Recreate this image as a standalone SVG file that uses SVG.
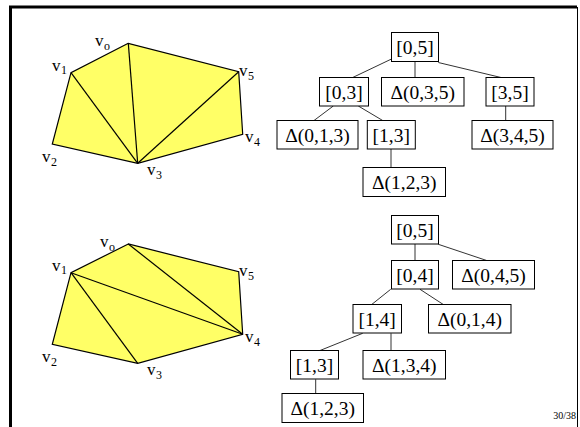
<svg xmlns="http://www.w3.org/2000/svg" width="580" height="427" viewBox="0 0 580 427">
<style>
.poly{fill:#FFFF66;stroke:#000;stroke-width:1.2;stroke-linejoin:miter}
.diag{stroke:#000;stroke-width:1.2;fill:none}
.lbl{font-family:"Liberation Serif","Times New Roman",serif;font-size:17px;fill:#000}
.sub{font-family:"Liberation Serif","Times New Roman",serif;font-size:12px;fill:#000}
.box rect{fill:#fff;stroke:#000;stroke-width:1}
.box text{font-family:"Liberation Serif","Times New Roman",serif;font-size:19.5px;fill:#000;text-anchor:middle}
.conn line{stroke:#333;stroke-width:1}
.pg{font-family:"Liberation Serif","Times New Roman",serif;font-size:10px;fill:#000;text-anchor:end}
</style>
<rect width="580" height="427" fill="#fff"/>
<!-- frame -->
<g id="frame">
<path d="M10.5,427 V7 H577" fill="none" stroke="#000" stroke-width="3"/>
<path d="M577.5,7 V427" fill="none" stroke="#000" stroke-width="1"/>
</g>
<!-- top polygon -->
<g id="polygon-top">
<polygon class="poly" points="128.3,43.3 71,72.7 52.3,144 137.7,163.3 242.7,134.3 238.7,71.7"/>
<line class="diag" x1="71" y1="72.7" x2="137.7" y2="163.3"/>
<line class="diag" x1="128.3" y1="43.3" x2="137.7" y2="163.3"/>
<line class="diag" x1="238.7" y1="71.7" x2="137.7" y2="163.3"/>
<text class="lbl" x="95" y="46">v</text><text class="sub" x="104" y="50">o</text>
<text class="lbl" x="52" y="71">v</text><text class="sub" x="61" y="74">1</text>
<text class="lbl" x="42" y="162">v</text><text class="sub" x="51" y="166">2</text>
<text class="lbl" x="147" y="175">v</text><text class="sub" x="156" y="179">3</text>
<text class="lbl" x="245" y="142">v</text><text class="sub" x="254" y="146">4</text>
<text class="lbl" x="239" y="76">v</text><text class="sub" x="248" y="80">5</text>
</g>
<!-- bottom polygon -->
<g id="polygon-bottom">
<polygon class="poly" points="128.3,244 71,272.7 52.3,344.3 137.7,363.3 242.7,334.3 238.7,271.7"/>
<line class="diag" x1="71" y1="272.7" x2="137.7" y2="363.3"/>
<line class="diag" x1="71" y1="272.7" x2="242.7" y2="334.3"/>
<line class="diag" x1="128.3" y1="244" x2="242.7" y2="334.3"/>
<text class="lbl" x="100" y="247">v</text><text class="sub" x="109" y="251">o</text>
<text class="lbl" x="52" y="271">v</text><text class="sub" x="61" y="274">1</text>
<text class="lbl" x="42" y="362">v</text><text class="sub" x="51" y="366">2</text>
<text class="lbl" x="147" y="375">v</text><text class="sub" x="156" y="379">3</text>
<text class="lbl" x="245" y="342">v</text><text class="sub" x="254" y="346">4</text>
<text class="lbl" x="239" y="276">v</text><text class="sub" x="248" y="280">5</text>
</g>
<!-- connectors -->
<g id="connectors" class="conn">
<line x1="391.5" y1="59" x2="352.7" y2="77.5"/>
<line x1="415" y1="62" x2="415" y2="77.5"/>
<line x1="438.3" y1="62.5" x2="501" y2="77.5"/>
<line x1="333.3" y1="106" x2="314" y2="120.5"/>
<line x1="358.3" y1="106" x2="382.7" y2="120.5"/>
<line x1="391" y1="149" x2="391" y2="167.5"/>
<line x1="505.7" y1="106" x2="505.7" y2="120.5"/>
<line x1="415" y1="244" x2="415" y2="260.5"/>
<line x1="438.3" y1="244.3" x2="486.7" y2="260.5"/>
<line x1="390.7" y1="289.3" x2="371.7" y2="304.5"/>
<line x1="420" y1="289.3" x2="443.3" y2="304.5"/>
<line x1="362.7" y1="333.3" x2="320" y2="350.5"/>
<line x1="391" y1="333.3" x2="391" y2="350.5"/>
<line x1="315.7" y1="379.3" x2="315.7" y2="393.5"/>
</g>
<!-- top tree -->
<g id="t-0-5" class="box"><rect x="391.5" y="32.5" width="47" height="29"/><text x="415" y="54">[0,5]</text></g>
<g id="t-0-3" class="box"><rect x="319.5" y="77.5" width="49" height="28.5"/><text x="344" y="98.5">[0,3]</text></g>
<g id="t-D035" class="box"><rect x="381.5" y="77.5" width="82.5" height="28.5"/><text x="422.7" y="98.5">Δ(0,3,5)</text></g>
<g id="t-3-5" class="box"><rect x="486" y="77.5" width="48" height="28.5"/><text x="510" y="98.5">[3,5]</text></g>
<g id="t-D013" class="box"><rect x="277" y="120.5" width="81" height="28.5"/><text x="317.5" y="141.5">Δ(0,1,3)</text></g>
<g id="t-1-3" class="box"><rect x="367.3" y="120.5" width="48" height="28.5"/><text x="391.3" y="141.5">[1,3]</text></g>
<g id="t-D345" class="box"><rect x="472" y="120.5" width="81" height="28.5"/><text x="512.5" y="141.5">Δ(3,4,5)</text></g>
<g id="t-D123" class="box"><rect x="363" y="167.5" width="82.5" height="29"/><text x="404.3" y="189">Δ(1,2,3)</text></g>
<!-- bottom tree -->
<g id="b-0-5" class="box"><rect x="391.5" y="215.5" width="47" height="28.5"/><text x="415" y="236.5">[0,5]</text></g>
<g id="b-0-4" class="box"><rect x="391.5" y="260.5" width="47" height="28.5"/><text x="415" y="281.5">[0,4]</text></g>
<g id="b-D045" class="box"><rect x="452.5" y="260.5" width="82" height="28.5"/><text x="493.5" y="281.5">Δ(0,4,5)</text></g>
<g id="b-1-4" class="box"><rect x="353" y="304.5" width="48.5" height="28.5"/><text x="377.2" y="325.5">[1,4]</text></g>
<g id="b-D014" class="box"><rect x="428.5" y="304.5" width="82.5" height="28.5"/><text x="469.7" y="325.5">Δ(0,1,4)</text></g>
<g id="b-1-3" class="box"><rect x="290.5" y="350.5" width="48" height="28.5"/><text x="314.5" y="371.5">[1,3]</text></g>
<g id="b-D134" class="box"><rect x="363" y="350.5" width="82.5" height="28.5"/><text x="404.3" y="371.5">Δ(1,3,4)</text></g>
<g id="b-D123" class="box"><rect x="282" y="393.5" width="81.5" height="29"/><text x="322.7" y="415">Δ(1,2,3)</text></g>
<text class="pg" x="576" y="418.5">30/38</text>
</svg>
